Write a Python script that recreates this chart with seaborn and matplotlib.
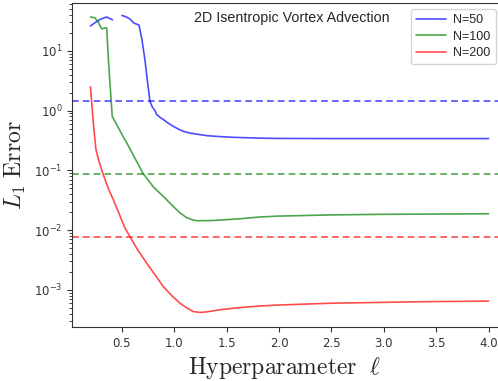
import numpy as np
import pandas as pd
import matplotlib
matplotlib.use("Agg")
import matplotlib.pyplot as plt
import seaborn as sns

# ---- data ----
n50_seg1_x = [0.20, 0.25, 0.30, 0.355, 0.41]
n50_seg1_y = [26.0, 30.0, 34.0, 36.7, 33.0]
n50_seg2_x = [0.50, 0.54, 0.577, 0.615, 0.663, 0.69, 0.72, 0.745, 0.768, 0.79, 0.816, 0.832, 0.86, 0.895, 0.94, 0.99, 1.04, 1.086, 1.15, 1.23, 1.31, 1.405, 1.563, 1.818, 2.0, 2.5, 3.0, 3.5, 4.0]
n50_seg2_y = [39.0, 37.0, 34.0, 29.0, 27.0, 16.0, 7.1, 3.0, 1.43, 1.15, 1.0, 0.86, 0.78, 0.71, 0.62, 0.546, 0.49, 0.45, 0.42, 0.40, 0.381, 0.37, 0.357, 0.346, 0.342, 0.340, 0.340, 0.340, 0.340]

n100_x = [0.20, 0.243, 0.275, 0.307, 0.355, 0.37, 0.386, 0.408, 0.466, 0.50, 0.546, 0.62, 0.704, 0.80, 0.895, 0.927, 1.0, 1.054, 1.118, 1.17, 1.214, 1.245, 1.372, 1.627, 1.818, 2.0, 2.5, 3.0, 3.5, 4.0]
n100_y = [36.7, 35.6, 30.0, 23.3, 24.3, 8.0, 2.9, 0.80, 0.52, 0.40, 0.29, 0.165, 0.088, 0.053, 0.0367, 0.0323, 0.024, 0.0195, 0.0162, 0.0150, 0.01436, 0.0144, 0.0145, 0.0155, 0.0166, 0.0172, 0.0180, 0.0184, 0.0186, 0.0188]

n200_x = [0.20, 0.21, 0.23, 0.253, 0.28, 0.31, 0.33, 0.37, 0.418, 0.47, 0.53, 0.577, 0.65, 0.737, 0.82, 0.895, 0.98, 1.054, 1.12, 1.181, 1.245, 1.309, 1.45, 1.627, 1.82, 2.0, 2.5, 3.0, 3.5, 4.0]
n200_y = [2.5, 1.5, 0.55, 0.22, 0.145, 0.098, 0.078, 0.05, 0.0323, 0.0195, 0.0108, 0.0078, 0.0047, 0.00281, 0.00175, 0.00114, 0.00079, 0.000601, 0.00050, 0.000435, 0.00042, 0.00043, 0.00047, 0.000507, 0.00054, 0.00056, 0.00060, 0.00062, 0.00064, 0.00065]

ref_levels = [1.43, 0.088, 0.0077]
labels = ["N=50", "N=100", "N=200"]
colors = ["#0000ff", "#008000", "#ff0000"]

sns.set_style("ticks")
plt.rcParams["mathtext.fontset"] = "cm"
plt.rcParams["font.family"] = ["DejaVu Sans"]

fig = plt.figure(figsize=(4.98, 3.81), dpi=100)
ax = fig.add_axes([72/498, 54/381, 426/498, 324/381])

df50a = pd.DataFrame({"x": n50_seg1_x, "y": n50_seg1_y})
df50b = pd.DataFrame({"x": n50_seg2_x, "y": n50_seg2_y})
df100 = pd.DataFrame({"x": n100_x, "y": n100_y})
df200 = pd.DataFrame({"x": n200_x, "y": n200_y})

lw = 1.2
al = 0.7
sns.lineplot(data=df50a, x="x", y="y", ax=ax, color=colors[0], alpha=al, lw=lw, sort=False, estimator=None)
sns.lineplot(data=df50b, x="x", y="y", ax=ax, color=colors[0], alpha=al, lw=lw, sort=False, estimator=None, label=labels[0])
sns.lineplot(data=df100, x="x", y="y", ax=ax, color=colors[1], alpha=al, lw=lw, sort=False, estimator=None, label=labels[1])
sns.lineplot(data=df200, x="x", y="y", ax=ax, color=colors[2], alpha=al, lw=lw, sort=False, estimator=None, label=labels[2])

for lvl, c in zip(ref_levels, colors):
    ax.axhline(lvl, color=c, alpha=al, lw=lw, ls=(0, (4, 2.5)))

ax.set_yscale("log")
ax.set_xlim(0.024, 4.09)
ax.set_ylim(2.4e-4, 63)
ax.set_xticks([0.5, 1.0, 1.5, 2.0, 2.5, 3.0, 3.5, 4.0])
ax.tick_params(labelsize=8.5, colors="#333333", labelcolor="#333333")
ax.spines["right"].set_visible(False)
for s in ["left", "bottom", "top"]:
    ax.spines[s].set_color("#333333")

ax.set_xlabel(r"$\mathrm{Hyperparameter}\ \ \ell$", fontsize=17)
ax.set_ylabel(r"$L_1\ \mathrm{Error}$", fontsize=17)

ax.text(0.516, 0.955, "2D Isentropic Vortex Advection", transform=ax.transAxes,
        ha="center", va="center", fontsize=10.3, family=["Liberation Sans"])

leg = ax.legend(loc="upper right", bbox_to_anchor=(1.003, 0.992),
                prop={"family": "Liberation Sans", "size": 9},
                handlelength=2.4, handletextpad=0.6, labelspacing=0.35,
                borderpad=0.4, frameon=True, borderaxespad=0.3, fancybox=True)
leg.get_frame().set_edgecolor("#cccccc")

fig.savefig("out.png", dpi=100)
